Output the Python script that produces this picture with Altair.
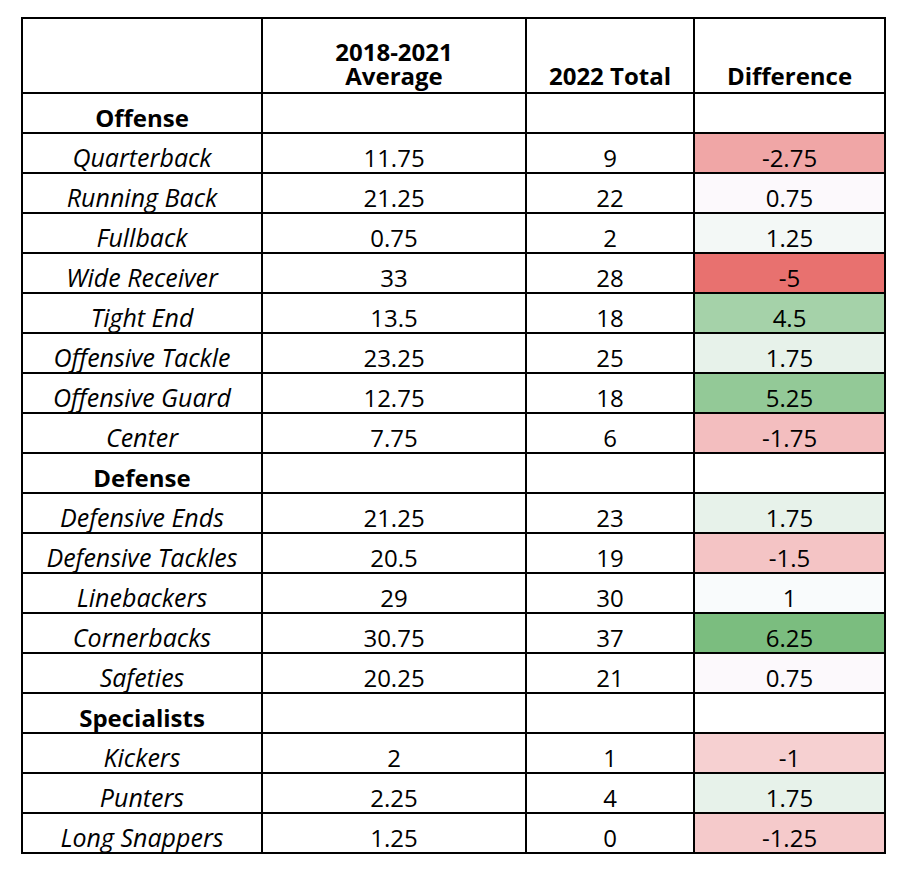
import statistics
import altair as alt
import pandas as pd

# ---------------- data ----------------
categories = ["Offense", "Defense", "Specialists"]
positions = [
    ["Quarterback", "Running Back", "Fullback", "Wide Receiver", "Tight End",
     "Offensive Tackle", "Offensive Guard", "Center"],
    ["Defensive Ends", "Defensive Tackles", "Linebackers", "Cornerbacks", "Safeties"],
    ["Kickers", "Punters", "Long Snappers"],
]
avg_2018_2021 = [
    [11.75, 21.25, 0.75, 33, 13.5, 23.25, 12.75, 7.75],
    [21.25, 20.5, 29, 30.75, 20.25],
    [2, 2.25, 1.25],
]
total_2022 = [
    [9, 22, 2, 28, 18, 25, 18, 6],
    [23, 19, 30, 37, 21],
    [1, 4, 0],
]
difference = [
    [-2.75, 0.75, 1.25, -5, 4.5, 1.75, 5.25, -1.75],
    [1.75, -1.5, 1, 6.25, 0.75],
    [-1, 1.75, -1.25],
]
header_text = [[""], ["2018-2021", "Average"], ["2022 Total"], ["Difference"]]

# ---------------- layout ----------------
COL_W = [240, 264, 168, 191]
HEADER_H = 75
ROW_H = 40
LEFT, TOP = 14, 10
W, H = 890, 858
FONT = "Open Sans"
FS = 24
BASE_OFF = 6.5
LINE_H = 24

edges = [0]
for w in COL_W:
    edges.append(edges[-1] + w)
centers = [(edges[i] + edges[i + 1]) / 2 for i in range(4)]

rows = []
for g, cat in enumerate(categories):
    rows.append(dict(kind="cat", label=cat))
    for p, name in enumerate(positions[g]):
        rows.append(dict(kind="pos", label=name, avg=avg_2018_2021[g][p],
                         tot=total_2022[g][p], diff=difference[g][p]))
n_rows = len(rows)
bottom = HEADER_H + n_rows * ROW_H


def fmt(v):
    return f"{v:g}"


head_txt, bold_txt, ital_txt, num_txt, fills = [], [], [], [], []
for c in range(4):
    lines = header_text[c]
    if any(lines):
        first_base = HEADER_H - 8 - (len(lines) - 1) * LINE_H
        head_txt.append(dict(x=centers[c], y=first_base, t="\n".join(lines)))
for i, r in enumerate(rows):
    top = HEADER_H + i * ROW_H
    base = top + ROW_H - BASE_OFF
    if r["kind"] == "cat":
        bold_txt.append(dict(x=centers[0], y=base, t=r["label"]))
    else:
        ital_txt.append(dict(x=centers[0], y=base, t=r["label"]))
        num_txt.append(dict(x=centers[1], y=base, t=fmt(r["avg"])))
        num_txt.append(dict(x=centers[2], y=base, t=fmt(r["tot"])))
        num_txt.append(dict(x=centers[3], y=base, t=fmt(r["diff"])))
        fills.append(dict(x=edges[3], x2=edges[4], y=top, y2=top + ROW_H, diff=r["diff"]))

hlines = [dict(x=edges[0], x2=edges[-1], y=yv) for yv in
          [0, HEADER_H] + [HEADER_H + (i + 1) * ROW_H for i in range(n_rows)]]
vlines = [dict(x=xv, y=0, y2=bottom) for xv in edges]

all_diffs = [d for grp in difference for d in grp]
mid = statistics.median(all_diffs)

xs = alt.Scale(domain=[-LEFT, W - LEFT], range=[0, W])
ys = alt.Scale(domain=[-TOP, H - TOP], range=[0, H])

fill_layer = alt.Chart(pd.DataFrame(fills)).mark_rect(strokeWidth=0).encode(
    x=alt.X("x:Q", scale=xs, axis=None),
    x2="x2:Q",
    y=alt.Y("y:Q", scale=ys, axis=None),
    y2="y2:Q",
    color=alt.Color("diff:Q", legend=None,
                    scale=alt.Scale(domain=[min(all_diffs), mid, max(all_diffs)],
                                    range=["#E8716F", "#FCFCFF", "#7BBD7F"],
                                    interpolate="rgb")),
)

h_layer = alt.Chart(pd.DataFrame(hlines)).mark_rule(
    color="black", strokeWidth=2, strokeCap="square").encode(
    x=alt.X("x:Q", scale=xs, axis=None), x2="x2:Q",
    y=alt.Y("y:Q", scale=ys, axis=None),
)
v_layer = alt.Chart(pd.DataFrame(vlines)).mark_rule(
    color="black", strokeWidth=2, strokeCap="square").encode(
    x=alt.X("x:Q", scale=xs, axis=None),
    y=alt.Y("y:Q", scale=ys, axis=None), y2="y2:Q",
)


def text_layer(data, size=FS, **kw):
    return alt.Chart(pd.DataFrame(data)).mark_text(
        font=FONT, fontSize=size, color="black", align="center",
        baseline="alphabetic", **kw).encode(
        x=alt.X("x:Q", scale=xs, axis=None),
        y=alt.Y("y:Q", scale=ys, axis=None),
        text="t:N",
    )


chart = alt.layer(
    fill_layer,
    text_layer(head_txt, fontWeight="bold", lineBreak="\n", lineHeight=LINE_H),
    text_layer(bold_txt, fontWeight="bold"),
    text_layer(ital_txt, size=FS + 1, fontStyle="italic"),
    text_layer(num_txt),
    h_layer,
    v_layer,
).properties(width=W, height=H, padding=0, background="white").configure_view(strokeWidth=0)

chart.save("out.html", embed_options={"renderer": "svg", "actions": False})
